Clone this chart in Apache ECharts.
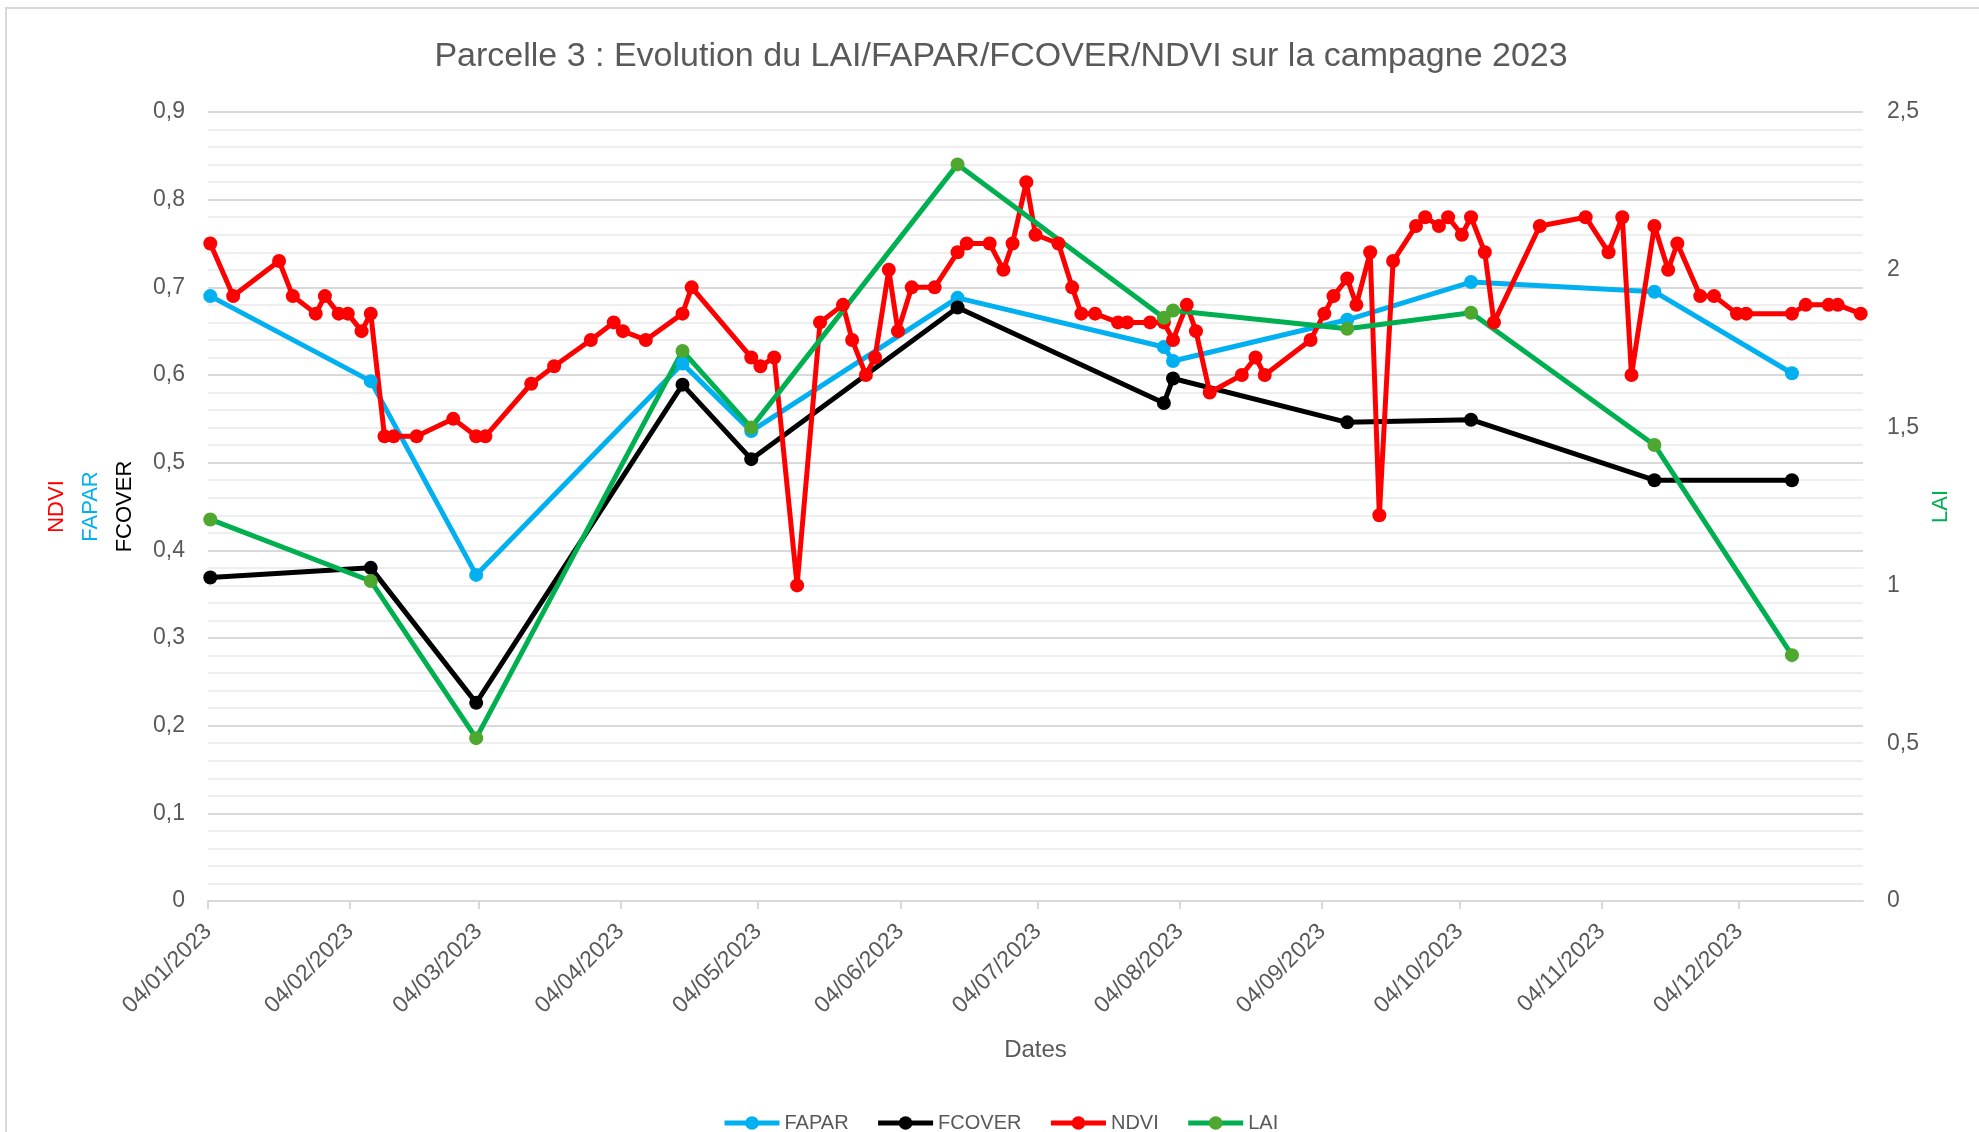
<!DOCTYPE html>
<html>
<head>
<meta charset="utf-8">
<title>Parcelle 3 : Evolution du LAI/FAPAR/FCOVER/NDVI</title>
<script src="https://cdn.jsdelivr.net/npm/echarts@6/dist/echarts.min.js"></script>
<style>
html, body { margin: 0; padding: 0; background: #fff; }
#chart { width: 1979px; height: 1132px; }
</style>
</head>
<body>
<div id="chart"></div>
<script>
// acquisition dates shared by FAPAR / FCOVER / LAI
const satDates = ['2023-01-04', '2023-02-08', '2023-03-03', '2023-04-17', '2023-05-02', '2023-06-16',
  '2023-07-31', '2023-08-02', '2023-09-09', '2023-10-06', '2023-11-15', '2023-12-15']
const fapar = [0.690, 0.593, 0.372, 0.613, 0.536, 0.688, 0.632, 0.616, 0.663, 0.706, 0.695, 0.602]
const fcover = [0.369, 0.380, 0.226, 0.589, 0.504, 0.677, 0.568, 0.596, 0.546, 0.549, 0.480, 0.480]
const lai = [1.209, 1.014, 0.516, 1.743, 1.500, 2.334, 1.848, 1.871, 1.813, 1.864, 1.445, 0.779]

// NDVI has its own (denser) dates
const ndviDates = ['2023-01-04', '2023-01-09', '2023-01-19', '2023-01-22', '2023-01-27', '2023-01-29', '2023-02-01', '2023-02-03', '2023-02-06', '2023-02-08',
  '2023-02-11', '2023-02-13', '2023-02-18', '2023-02-26', '2023-03-03', '2023-03-05', '2023-03-15', '2023-03-20', '2023-03-28', '2023-04-02',
  '2023-04-04', '2023-04-09', '2023-04-17', '2023-04-19', '2023-05-02', '2023-05-04', '2023-05-07', '2023-05-12', '2023-05-17', '2023-05-22',
  '2023-05-24', '2023-05-27', '2023-05-29', '2023-06-01', '2023-06-03', '2023-06-06', '2023-06-11', '2023-06-16', '2023-06-18', '2023-06-23',
  '2023-06-26', '2023-06-28', '2023-07-01', '2023-07-03', '2023-07-08', '2023-07-11', '2023-07-13', '2023-07-16', '2023-07-21', '2023-07-23',
  '2023-07-28', '2023-07-31', '2023-08-02', '2023-08-05', '2023-08-07', '2023-08-10', '2023-08-17', '2023-08-20', '2023-08-22', '2023-09-01',
  '2023-09-04', '2023-09-06', '2023-09-09', '2023-09-11', '2023-09-14', '2023-09-16', '2023-09-19', '2023-09-24', '2023-09-26', '2023-09-29',
  '2023-10-01', '2023-10-04', '2023-10-06', '2023-10-09', '2023-10-11', '2023-10-21', '2023-10-31', '2023-11-05', '2023-11-08', '2023-11-10',
  '2023-11-15', '2023-11-18', '2023-11-20', '2023-11-25', '2023-11-28', '2023-12-03', '2023-12-05', '2023-12-15', '2023-12-18', '2023-12-23',
  '2023-12-25', '2023-12-30']
const ndvi = [0.75, 0.69, 0.73, 0.69, 0.67, 0.69, 0.67, 0.67, 0.65, 0.67,
  0.53, 0.53, 0.53, 0.55, 0.53, 0.53, 0.59, 0.61, 0.64, 0.66,
  0.65, 0.64, 0.67, 0.70, 0.62, 0.61, 0.62, 0.36, 0.66, 0.68,
  0.64, 0.60, 0.62, 0.72, 0.65, 0.70, 0.70, 0.74, 0.75, 0.75,
  0.72, 0.75, 0.82, 0.76, 0.75, 0.70, 0.67, 0.67, 0.66, 0.66,
  0.66, 0.66, 0.64, 0.68, 0.65, 0.58, 0.60, 0.62, 0.60, 0.64,
  0.67, 0.69, 0.71, 0.68, 0.74, 0.44, 0.73, 0.77, 0.78, 0.77,
  0.78, 0.76, 0.78, 0.74, 0.66, 0.77, 0.78, 0.74, 0.78, 0.60,
  0.77, 0.72, 0.75, 0.69, 0.69, 0.67, 0.67, 0.67, 0.68, 0.68,
  0.68, 0.67]

// x ticks: the 4th of every month
const tickDates = ['2023-01-04', '2023-02-04', '2023-03-04', '2023-04-04', '2023-05-04', '2023-06-04',
  '2023-07-04', '2023-08-04', '2023-09-04', '2023-10-04', '2023-11-04', '2023-12-04']
const xStart = '2023-01-04'
const xEnd = '2023-12-31'

const gray = '#595959'
const font = 'Liberation Sans, Arial, sans-serif'
const HALF_DAY = 12 * 3600 * 1000

function toTime(s) {
  return new Date(s + 'T00:00:00').getTime()
}
// like Excel's date axis, a point sits in the middle of its day
function pairs(dates, vals) {
  return dates.map((d, i) => [toTime(d) + HALF_DAY, vals[i]])
}
function pad(n) {
  return n < 10 ? '0' + n : '' + n
}
function frNum(v) {
  return String(+v.toFixed(2)).replace('.', ',')
}

const ticks = tickDates.map(toTime)

const chart = echarts.init(document.getElementById('chart'))

function lineSeries(name, data, color, markColor, axis) {
  return {
    name: name,
    type: 'line',
    yAxisIndex: axis,
    data: data,
    symbol: 'circle',
    symbolSize: 14,
    lineStyle: { width: 5, color: color },
    itemStyle: { color: markColor },
    emphasis: { disabled: true }
  }
}

const option = {
  animation: false,
  backgroundColor: '#fff',
  textStyle: { fontFamily: font },
  graphic: [
    {
      type: 'rect',
      shape: { x: 6, y: 8, width: 2100, height: 1300 },
      style: { fill: 'none', stroke: '#d9d9d9', lineWidth: 2 },
      silent: true
    }
  ],
  title: {
    text: 'Parcelle 3 : Evolution du LAI/FAPAR/FCOVER/NDVI sur la campagne 2023',
    left: 996,
    textAlign: 'center',
    top: 35,
    textStyle: { fontSize: 34, fontWeight: 'normal', color: gray, fontFamily: font }
  },
  legend: {
    data: ['FAPAR', 'FCOVER', 'NDVI', 'LAI'],
    left: 717,
    top: 1108,
    itemWidth: 55,
    itemHeight: 17,
    itemGap: 27,
    lineStyle: { width: 5 },
    textStyle: { fontSize: 20, color: gray, fontFamily: font }
  },
  grid: {
    left: 208,
    right: 116,
    top: 112,
    bottom: 231,
    containLabel: false
  },
  // dates are plotted as timestamps on a value axis, labelled on the 4th of each month
  xAxis: {
    type: 'value',
    min: toTime(xStart),
    max: toTime(xEnd),
    name: 'Dates',
    nameLocation: 'middle',
    nameGap: 137,
    nameTextStyle: { fontSize: 24, color: gray },
    axisLine: { show: true, lineStyle: { color: '#d9d9d9', width: 2 } },
    axisTick: { show: true, length: 8, customValues: ticks, lineStyle: { color: '#d9d9d9', width: 2 } },
    axisLabel: {
      customValues: ticks,
      rotate: 45,
      margin: 27,
      fontSize: 23,
      color: gray,
      formatter: v => {
        const d = new Date(v)
        return pad(d.getDate()) + '/' + pad(d.getMonth() + 1) + '/' + d.getFullYear()
      }
    },
    splitLine: { show: false }
  },
  yAxis: [
    {
      type: 'value',
      position: 'left',
      min: 0,
      max: 0.9,
      interval: 0.1,
      name: '{a|NDVI}\n{b|FAPAR}\n{c|FCOVER}',
      nameLocation: 'middle',
      nameRotate: 90,
      nameGap: 61,
      nameTextStyle: {
        fontSize: 22,
        lineHeight: 34,
        align: 'center',
        rich: {
          a: { color: '#ff0000', fontSize: 22, lineHeight: 34 },
          b: { color: '#00b0f0', fontSize: 22, lineHeight: 34 },
          c: { color: '#000000', fontSize: 22, lineHeight: 34 }
        }
      },
      axisLine: { show: false },
      axisTick: { show: false },
      axisLabel: { fontSize: 23, color: gray, margin: 23, formatter: frNum },
      splitLine: { lineStyle: { color: '#d9d9d9', width: 2 } },
      minorTick: { show: false, splitNumber: 5 },
      minorSplitLine: { show: true, lineStyle: { color: '#eeeeee', width: 2 } }
    },
    {
      type: 'value',
      position: 'right',
      min: 0,
      max: 2.5,
      interval: 0.5,
      name: 'LAI',
      nameLocation: 'middle',
      nameRotate: 90,
      nameGap: 67,
      nameTextStyle: { fontSize: 22, lineHeight: 22, color: '#00b050' },
      axisLine: { show: false },
      axisTick: { show: false },
      axisLabel: { fontSize: 23, color: gray, margin: 24, formatter: frNum },
      splitLine: { show: false }
    }
  ],
  series: [
    lineSeries('FAPAR', pairs(satDates, fapar), '#00b0f0', '#00b0f0', 0),
    lineSeries('FCOVER', pairs(satDates, fcover), '#000000', '#000000', 0),
    lineSeries('NDVI', pairs(ndviDates, ndvi), '#ff0000', '#ff0000', 0),
    lineSeries('LAI', pairs(satDates, lai), '#00b050', '#4ea72e', 1)
  ]
}

chart.setOption(option)
</script>
</body>
</html>
